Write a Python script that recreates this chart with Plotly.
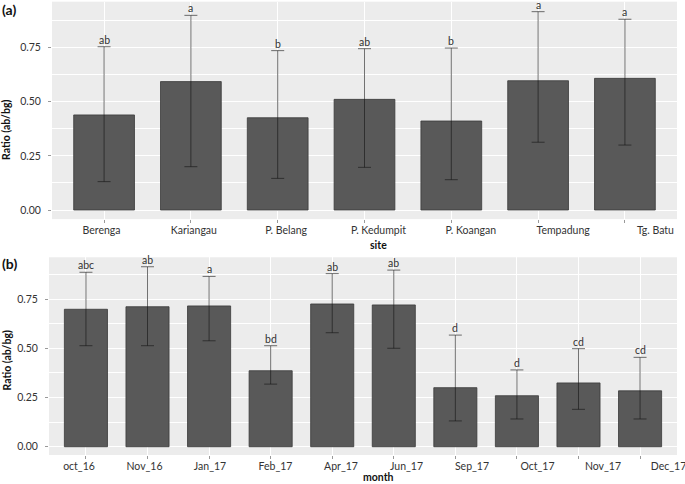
import plotly.graph_objects as go

# ---- data: panel (a) by site ----
sites = ["Berenga", "Kariangau", "P. Belang", "P. Kedumpit", "P. Koangan", "Tempadung", "Tg. Batu"]
site_mean = [0.439, 0.593, 0.426, 0.511, 0.411, 0.597, 0.608]
site_upper = [0.754, 0.899, 0.736, 0.745, 0.748, 0.916, 0.881]
site_lower = [0.131, 0.200, 0.146, 0.197, 0.140, 0.313, 0.300]
site_letters = ["ab", "a", "b", "ab", "b", "a", "a"]

# ---- data: panel (b) by month ----
months = ["oct_16", "Nov_16", "Jan_17", "Feb_17", "Apr_17", "Jun_17", "Sep_17", "Oct_17", "Nov_17", "Dec_17"]
month_mean = [0.698, 0.711, 0.715, 0.386, 0.725, 0.720, 0.300, 0.259, 0.324, 0.284]
month_upper = [0.886, 0.914, 0.865, 0.513, 0.879, 0.897, 0.567, 0.390, 0.498, 0.454]
month_lower = [0.513, 0.513, 0.538, 0.318, 0.579, 0.500, 0.131, 0.141, 0.190, 0.141]
month_letters = ["abc", "ab", "a", "bd", "ab", "ab", "d", "d", "cd", "cd"]

yticks = [0.0, 0.25, 0.50, 0.75]

FONT = "Lato"
BAR_FILL = "#595959"
BAR_LINE = "#3a3a3a"
ERR_COL = "rgba(20,20,20,0.6)"
PANEL_BG = "#ECECEC"

fig = go.Figure()

def add_panel(cats, mean, upper, lower, xa, ya):
    fig.add_trace(go.Bar(
        x=cats, y=mean, xaxis=xa, yaxis=ya, width=0.7,
        marker=dict(color=BAR_FILL, line=dict(color=BAR_LINE, width=0.8)),
        error_y=dict(type="data", symmetric=False,
                     array=[u - m for u, m in zip(upper, mean)],
                     arrayminus=[m - l for m, l in zip(mean, lower)],
                     color=ERR_COL, thickness=1, width=6.5),
        showlegend=False, hoverinfo="skip"))

add_panel(sites, site_mean, site_upper, site_lower, "x", "y")
add_panel(months, month_mean, month_upper, month_lower, "x2", "y2")

# invisible helper traces to carry the shifted label axes
fig.add_trace(go.Scatter(x=list(range(len(sites))), y=[0] * len(sites), xaxis="x3", yaxis="y",
                         mode="markers", marker=dict(opacity=0), showlegend=False, hoverinfo="skip"))
fig.add_trace(go.Scatter(x=list(range(len(months))), y=[0] * len(months), xaxis="x4", yaxis="y2",
                         mode="markers", marker=dict(opacity=0), showlegend=False, hoverinfo="skip"))

W, H = 685, 484
top_x = [52 / W, 677 / W]
top_y = [(H - 219.1) / H, (H - 1.7) / H]
bot_x = [49 / W, 677 / W]
bot_y = [(H - 455) / H, (H - 257.3) / H]

tickfont = dict(family=FONT, size=10.5, color="#333333")
xtickfont = dict(family=FONT, size=10.5, color="#333333")

def xcat(domain, anchor, n):
    return dict(domain=domain, anchor=anchor, type="category", range=[-0.6, n - 0.4],
                showgrid=True, gridcolor="white", gridwidth=1.1, zeroline=False,
                ticks="outside", ticklen=3, tickcolor="#999999", tickwidth=0.8,
                showticklabels=False, showline=False, fixedrange=True, automargin=False)

def xlab(over, anchor, rng, labels):
    return dict(overlaying=over, anchor=anchor, type="linear", range=rng,
                tickvals=list(range(len(labels))), ticktext=labels, side="bottom",
                showgrid=False, zeroline=False, showline=False,
                ticks="outside", ticklen=1, tickcolor="rgba(0,0,0,0)",
                tickfont=xtickfont, fixedrange=True, automargin=False,
                ticklabeloverflow="allow")

def yax(domain, anchor):
    return dict(domain=domain, anchor=anchor, range=[-0.042, 0.962],
                tickvals=yticks, tickformat=".2f", tickfont=tickfont,
                showgrid=True, gridcolor="white", gridwidth=1.1, zeroline=False,
                ticks="outside", ticklen=3, tickcolor="#999999", tickwidth=0.8,
                ticklabelstandoff=5,
                minor=dict(dtick=0.125, tick0=0.125, showgrid=True, gridcolor="white", gridwidth=0.5),
                showline=False, fixedrange=True, automargin=False)

annotations = []
for cats, upper, letters, xr, yr in [(sites, site_upper, site_letters, "x", "y"),
                                    (months, month_upper, month_letters, "x2", "y2")]:
    for c, u, t in zip(cats, upper, letters):
        annotations.append(dict(x=c, y=u, xref=xr, yref=yr, text=t, showarrow=False,
                                yanchor="bottom", yshift=-1,
                                font=dict(family=FONT, size=10.5, color="#333333")))

bold = dict(family=FONT, size=10.5, color="#111111")
annotations += [
    dict(x=0, y=1.0, xref="paper", yref="paper", text="<b>(a)</b>", showarrow=False,
         xanchor="left", yanchor="top", yshift=1, font=dict(family=FONT, size=14, color="#111111")),
    dict(x=0, y=(H - 263) / H, xref="paper", yref="paper", text="<b>(b)</b>", showarrow=False,
         xanchor="left", yanchor="middle", font=dict(family=FONT, size=14, color="#111111")),
    dict(x=6.5 / W, y=(H - 130.5) / H, xref="paper", yref="paper", text="<b>Ratio (ab/bg)</b>",
         showarrow=False, textangle=-90, xanchor="center", yanchor="middle", font=bold),
    dict(x=6.5 / W, y=(H - 361) / H, xref="paper", yref="paper", text="<b>Ratio (ab/bg)</b>",
         showarrow=False, textangle=-90, xanchor="center", yanchor="middle", font=bold),
    dict(x=378 / W, y=(H - 244.5) / H, xref="paper", yref="paper", text="<b>site</b>",
         showarrow=False, xanchor="center", yanchor="middle", font=bold),
    dict(x=379 / W, y=0, xref="paper", yref="paper", text="<b>month</b>",
         showarrow=False, xanchor="center", yanchor="bottom", yshift=-1, font=bold),
]

fig.update_layout(
    width=W, height=H, margin=dict(l=0, r=0, t=0, b=0),
    paper_bgcolor="white", plot_bgcolor=PANEL_BG,
    font=dict(family=FONT, color="#333333"),
    bargap=0.3,
    xaxis=xcat(top_x, "y", len(sites)),
    yaxis=yax(top_y, "x"),
    xaxis2=xcat(bot_x, "y2", len(months)),
    yaxis2=yax(bot_y, "x2"),
    xaxis3=xlab("x", "y", [-0.537, 6.234], sites),
    xaxis4=xlab("x2", "y2", [-0.458, 9.130], months),
    annotations=annotations,
)

fig.write_html("out.html", config={"displayModeBar": False},
               post_script="document.body.style.margin='0px';")
